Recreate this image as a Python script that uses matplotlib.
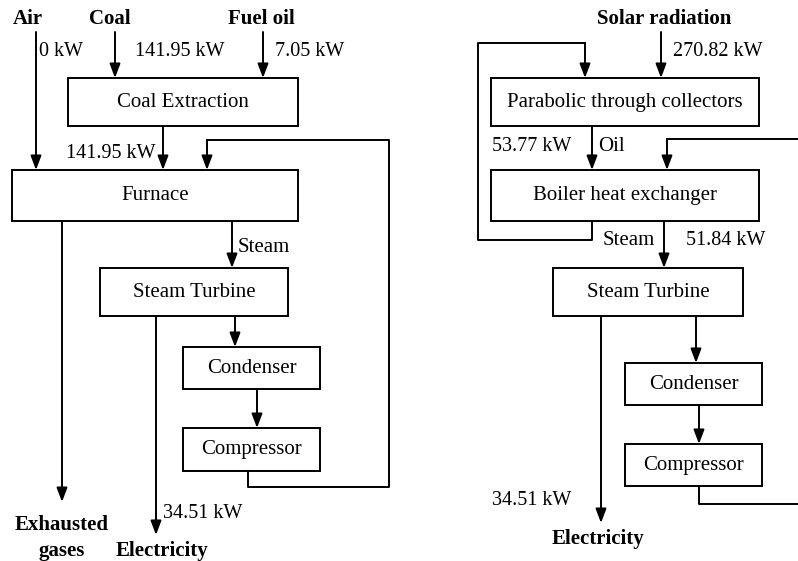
import matplotlib
matplotlib.use("Agg")
import matplotlib.pyplot as plt
from matplotlib.patches import Rectangle

# --- diagram content -------------------------------------------------
left_boxes = ["Coal Extraction", "Furnace", "Steam Turbine", "Condenser", "Compressor"]
right_boxes = ["Parabolic through collectors", "Boiler heat exchanger",
               "Steam Turbine", "Condenser", "Compressor"]

left_inputs = ["Air", "Coal", "Fuel oil"]
left_input_kw = [0, 141.95, 7.05]
coal_to_furnace_kw = 141.95
left_electricity_kw = 34.51

solar_kw = 270.82
oil_kw = 53.77
steam_kw = 51.84
right_electricity_kw = 34.51

# --- layout (pixel coords, y down) -----------------------------------
left_box_pos = [(68, 78, 298, 126), (12, 170, 298, 221), (100, 268, 288, 316),
                (183, 347, 320, 389), (183, 428, 320, 471)]
right_box_pos = [(491, 78, 759, 126), (491, 170, 759, 221), (553, 268, 743, 316),
                 (625, 363, 762, 405), (625, 444, 762, 486)]

FS = 15
FS_NUM = 14.5
LW = 1.4
plt.rcParams['font.family'] = ['Liberation Serif', 'DejaVu Serif']

fig = plt.figure(figsize=(7.98, 5.61), dpi=100)
ax = fig.add_axes([0, 0, 1, 1])
ax.set_xlim(0, 798)
ax.set_ylim(561, 0)
ax.axis('off')


def box(pos, label):
    x0, y0, x1, y1 = pos
    ax.add_patch(Rectangle((x0, y0), x1 - x0, y1 - y0, fill=False,
                           lw=LW, ec='black'))
    ax.text((x0 + x1) / 2, (y0 + y1) / 2, label, ha='center', va='center',
            fontsize=FS)


def path(pts, arrow=True):
    xs = [p[0] for p in pts]
    ys = [p[1] for p in pts]
    if arrow:
        ax.plot(xs[:-1], ys[:-1], color='black', lw=LW, solid_capstyle='projecting')
        ax.annotate('', xy=pts[-1], xytext=pts[-2],
                    arrowprops=dict(arrowstyle='-|>,head_length=0.85,head_width=0.32',
                                    mutation_scale=10, lw=LW, color='black',
                                    shrinkA=0, shrinkB=0))
    else:
        ax.plot(xs, ys, color='black', lw=LW, solid_capstyle='projecting')


def txt(x, y, s, ha='left', bold=False, size=FS_NUM):
    ax.text(x, y, s, ha=ha, va='center', fontsize=FS if bold else size,
            fontweight='bold' if bold else 'normal')


for label, pos in zip(left_boxes, left_box_pos):
    box(pos, label)
for label, pos in zip(right_boxes, right_box_pos):
    box(pos, label)

# --- left diagram ----------------------------------------------------
path([(36, 32), (36, 170)])
path([(115, 32), (115, 78)])
path([(263, 32), (263, 78)])
path([(163, 126), (163, 170)])
path([(248, 471), (248, 487), (389, 487), (389, 140), (207, 140), (207, 170)])
path([(62, 221), (62, 502)])
path([(232, 221), (232, 268)])
path([(156, 316), (156, 535)])
path([(235, 316), (235, 347)])
path([(257, 389), (257, 428)])

for (x, s) in zip([28, 110, 261], left_inputs):
    txt(x, 19, s, ha='center', bold=True)
for (x, v) in zip([39, 135, 275], left_input_kw):
    txt(x, 51, f"{v:.2f} kW" if v else "0 kW")
txt(156, 153, f"{coal_to_furnace_kw:.2f} kW", ha='right')
txt(238, 247, "Steam", size=FS)
txt(163, 513, f"{left_electricity_kw:.2f} kW")
txt(62, 525, "Exhausted", ha='center', bold=True)
txt(62, 551, "gases", ha='center', bold=True)
txt(162, 551, "Electricity", ha='center', bold=True)

# --- right diagram ---------------------------------------------------
path([(661, 32), (661, 78)])
path([(592, 221), (592, 240), (478, 240), (478, 43), (585, 43), (585, 78)])
path([(592, 126), (592, 170)])
path([(699, 486), (699, 504), (800, 504)], arrow=False)
path([(800, 139), (667, 139), (667, 170)])
path([(664, 221), (664, 268)])
path([(601, 316), (601, 523)])
path([(696, 316), (696, 363)])
path([(699, 405), (699, 444)])

txt(664, 19, "Solar radiation", ha='center', bold=True)
txt(673, 51, f"{solar_kw:.2f} kW")
txt(492, 146, f"{oil_kw:.2f} kW")
txt(598, 146, "Oil", size=FS)
txt(655, 240, "Steam", ha='right', size=FS)
txt(686, 240, f"{steam_kw:.2f} kW")
txt(492, 500, f"{right_electricity_kw:.2f} kW")
txt(598, 539, "Electricity", ha='center', bold=True)

fig.savefig("out.png", dpi=100)
